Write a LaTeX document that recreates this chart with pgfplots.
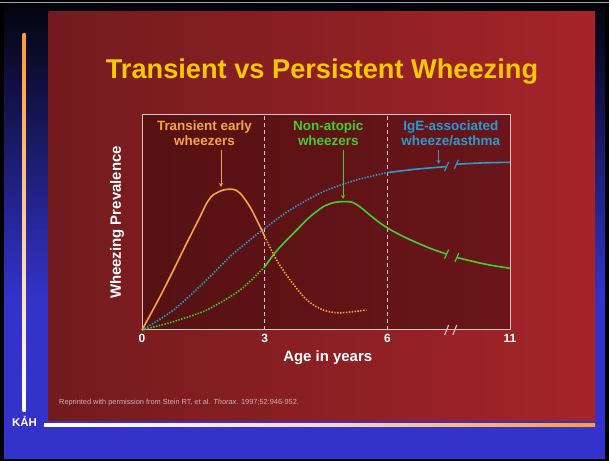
\documentclass[border=0pt]{standalone}
\usepackage{pgfplots}
\pgfplotsset{compat=1.18}
\usepackage{fontspec}
\setmainfont{Liberation Sans}
\usetikzlibrary{arrows.meta}
\definecolor{bgblue}{HTML}{3333CC}
\definecolor{slideL}{HTML}{721B1E}
\definecolor{slideR}{HTML}{A52429}
\definecolor{plotL}{HTML}{561113}
\definecolor{plotR}{HTML}{6A1519}
\definecolor{ttl}{HTML}{F8C800}
\definecolor{cor}{HTML}{F5A540}
\definecolor{cgr}{HTML}{44CC33}
\definecolor{cbl}{HTML}{2A9AD0}
\definecolor{frm}{HTML}{D8C4C4}
\definecolor{ftr}{HTML}{D9AFAF}
\definecolor{lineor}{HTML}{FF9933}
\begin{document}
\begin{tikzpicture}[x=1bp,y=1bp]
\useasboundingbox (0,0) rectangle (609,461);
% outer frame and background
\fill[black] (0,0) rectangle (609,461);
\fill[bgblue] (4,2) rectangle (605,161);
\shade[top color={rgb,255:red,3;green,3;blue,12}, bottom color=bgblue] (4,161) rectangle (605,458);
\fill[gray!70] (0,457.5) rectangle (609,458.5);
% decorative lines
\shade[top color=lineor, bottom color=white] (22.5,49) rectangle (25.5,427);
\shade[left color=white, right color=lineor, middle color={rgb,255:red,255;green,215;blue,200}] (44,34.5) rectangle (595,37.5);
\node[white, font=\fontsize{11.5}{12}\selectfont\bfseries] at (24.5,40) {KẢH};
% slide
\shade[left color=slideL, right color=slideR] (48.5,40) rectangle (595,449);
% title
\node[ttl, font=\fontsize{27.3}{30}\selectfont\bfseries] at (322,389) {Transient vs Persistent Wheezing};
% axis
\begin{axis}[
  at={(142bp,131bp)}, anchor=south west,
  scale only axis, width=368bp, height=215bp,
  xmin=0, xmax=9, ymin=0, ymax=100,
  axis background/.style={left color=plotL, right color=plotR},
  axis line style={frm, line width=1bp},
  xtick={0,3,6,9}, xticklabels={0,3,6,11},
  ytick=\empty,
  major tick length=0pt,
  /pgf/number format/assume math mode=true,
  xticklabel style={white, font=\fontsize{12}{12}\selectfont\bfseries, yshift=-1bp},
  clip=false,
]
\draw[frm, line width=0.9bp, dash pattern=on 4bp off 3bp] (axis cs:3,0) -- (axis cs:3,100);
\draw[frm, line width=0.9bp, dash pattern=on 4bp off 3bp] (axis cs:6,0) -- (axis cs:6,100);
% blue
\addplot[cbl, line width=1.6bp, dash pattern=on 1.4bp off 1.5bp, smooth] coordinates {(0,0) (0.77,9.3) (1.58,23.3) (2.15,34.1) (2.64,41.9) (3.05,48) (3.62,55.8) (4.43,64.3) (5.25,69.8) (6.0,73.2)};
\addplot[cbl, line width=1.6bp, smooth] coordinates {(6.0,73.2) (6.7,74.8) (7.45,76.0)};
\addplot[cbl, line width=1.6bp, smooth] coordinates {(7.69,77.1) (8.3,77.7) (9.0,78.0)};
% green
\addplot[cgr, line width=1.6bp, dash pattern=on 1.4bp off 1.5bp, smooth] coordinates {(0,0) (0.77,3.9) (1.58,9.3) (2.4,18.6) (3.0,29.4)};
\addplot[cgr, line width=1.6bp, smooth] coordinates {(3.0,29.4) (3.3,37) (3.62,43.4) (3.86,48) (4.11,52.7) (4.43,57.3) (4.68,59.2) (4.92,59.7) (5.13,59.5) (5.33,57.3) (5.57,53.5) (5.82,49.8) (6.06,46.8) (6.4,43.4) (6.72,40.6) (7.1,37.6) (7.45,35.3)};
\addplot[cgr, line width=1.6bp, smooth] coordinates {(7.7,33.7) (8.4,30.6) (9.0,28.7)};
% orange
\addplot[cor, line width=1.6bp, smooth] coordinates {(0,0) (0.44,15.5) (0.77,27.9) (1.09,40.3) (1.42,52.7) (1.58,58.9) (1.74,62.8) (1.99,65.1) (2.23,65.4) (2.40,63.6) (2.64,57.3) (2.89,48) (3.0,43.5)};
\addplot[cor, line width=1.6bp, dash pattern=on 1.4bp off 1.5bp, smooth] coordinates {(3.0,43.5) (3.29,32.6) (3.62,23.3) (4.03,14) (4.43,9.3) (4.84,8) (5.49,9.3)};
% break marks
\draw[cbl, line width=1.2bp] ([xshift=-2bp,yshift=-4.5bp]axis cs:7.45,76.0) -- ([xshift=2bp,yshift=4.5bp]axis cs:7.45,76.0);
\draw[cbl, line width=1.2bp] ([xshift=-2bp,yshift=-4.5bp]axis cs:7.69,77.1) -- ([xshift=2bp,yshift=4.5bp]axis cs:7.69,77.1);
\draw[cgr, line width=1.2bp] ([xshift=-2bp,yshift=-4.5bp]axis cs:7.45,35.3) -- ([xshift=2bp,yshift=4.5bp]axis cs:7.45,35.3);
\draw[cgr, line width=1.2bp] ([xshift=-2bp,yshift=-4.5bp]axis cs:7.7,33.7) -- ([xshift=2bp,yshift=4.5bp]axis cs:7.7,33.7);
\draw[frm, line width=1.1bp] ([xshift=-2bp,yshift=-5bp]axis cs:7.45,0) -- ([xshift=2bp,yshift=5bp]axis cs:7.45,0);
\draw[frm, line width=1.1bp] ([xshift=-2bp,yshift=-5bp]axis cs:7.65,0) -- ([xshift=2bp,yshift=5bp]axis cs:7.65,0);
\end{axis}
% arrows
\draw[cor, line width=1bp, -{Stealth[length=4bp,width=4bp]}] (221,311) -- (221,274);
\draw[cgr, line width=1bp, -{Stealth[length=4bp,width=4bp]}] (343,311) -- (343,262);
\draw[cbl, line width=1bp, -{Stealth[length=4bp,width=4bp]}] (438.5,311) -- (438.5,297);
% labels
\node[cor, align=center, font=\fontsize{13.5}{14.7}\selectfont\bfseries] at (204.5,327.5) {Transient early\\wheezers};
\node[cgr, align=center, font=\fontsize{13.5}{14.7}\selectfont\bfseries] at (328.3,327.5) {Non-atopic\\wheezers};
\node[cbl, align=center, font=\fontsize{13.5}{14.7}\selectfont\bfseries] at (450.8,327.5) {IgE-associated\\wheeze/asthma};
\node[white, rotate=90, font=\fontsize{15}{15}\selectfont\bfseries] at (117,238.5) {Wheezing Prevalence};
\node[white, font=\fontsize{15}{15}\selectfont\bfseries] at (327.7,103) {Age in years};
\node[ftr, anchor=west, inner sep=0pt, font=\fontsize{7.4}{8}\selectfont] at (59,58) {Reprinted with permission from Stein RT, et al. \textit{Thorax}. 1997;52:946-952.};
\end{tikzpicture}
\end{document}
